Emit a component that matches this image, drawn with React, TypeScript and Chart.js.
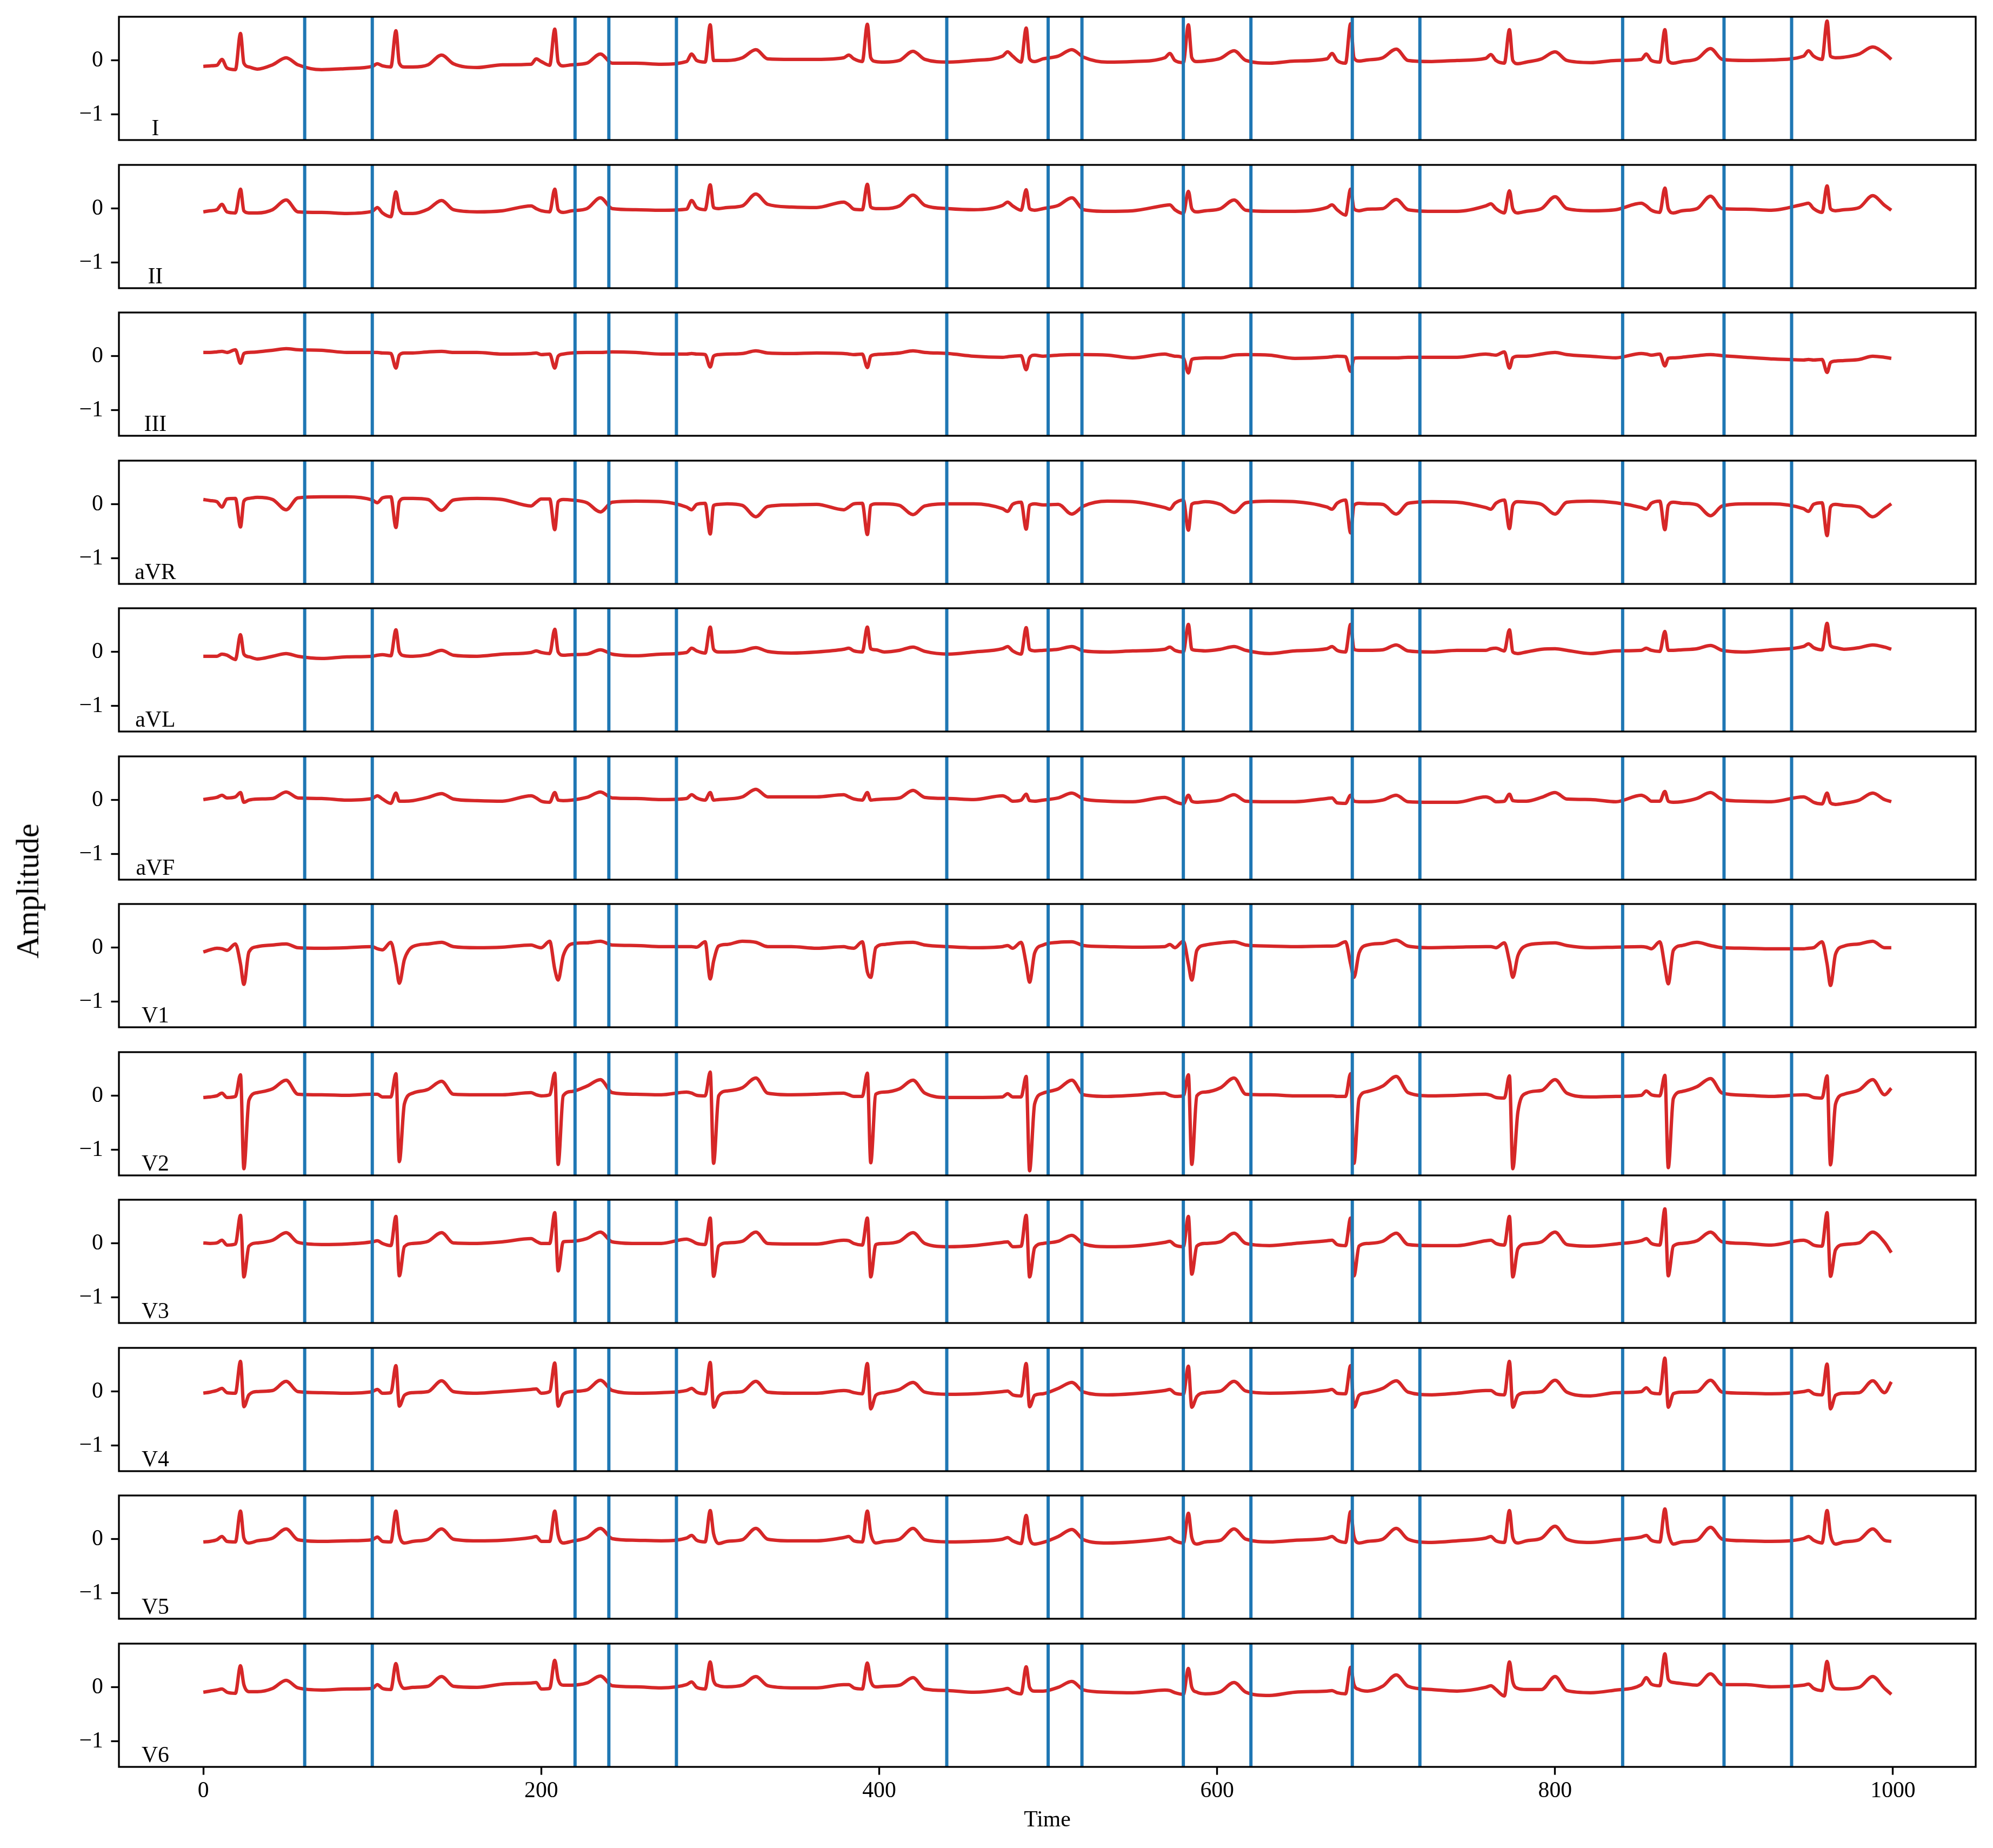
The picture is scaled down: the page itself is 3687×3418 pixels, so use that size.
import { useEffect, useRef } from 'react';
import { Chart, registerables } from 'chart.js';

Chart.register(...registerables);

// ---------- data ----------
const time = [
  0, 4,
  8, 11, 14, 19, 22, 24, 27, 32, 41, 49, 56, 70, 85,
  100, 103, 106, 111, 114, 116, 119, 124, 133, 141, 148, 162, 177,
  194, 197, 200, 205, 208, 210, 213, 218, 227, 235, 242, 256, 271,
  286, 289, 292, 297, 300, 302, 305, 310, 319, 327, 334, 348, 363,
  379, 382, 385, 390, 393, 395, 398, 403, 412, 420, 427, 441, 456,
  473, 476, 479, 484, 487, 489, 492, 497, 506, 514, 521, 535, 550,
  569, 572, 575, 580, 583, 585, 588, 593, 602, 610, 617, 631, 646,
  665, 668, 671, 676, 679, 681, 684, 689, 698, 706, 713, 727, 742,
  759, 762, 765, 770, 773, 775, 778, 783, 792, 800, 807, 821, 836,
  851, 854, 857, 862, 865, 867, 870, 875, 884, 892, 899, 913, 928,
  947, 950, 953, 958, 961, 963, 966, 971, 980, 988, 995, 999,
];

const leadI = [
  -0.11, -0.10,
  -0.09, 0.02, -0.14, -0.17, 0.50, -0.05, -0.12, -0.16, -0.08, 0.05, -0.08, -0.17, -0.15,
  -0.11, -0.06, -0.10, -0.12, 0.55, -0.05, -0.12, -0.12, -0.08, 0.10, -0.06, -0.13, -0.08,
  -0.07, 0.03, -0.02, -0.09, 0.58, -0.03, -0.10, -0.08, -0.05, 0.12, -0.05, -0.05, -0.07,
  -0.02, 0.12, 0.00, -0.03, 0.66, 0.00, 0.00, 0.00, 0.05, 0.20, 0.03, 0.02, 0.02,
  0.05, 0.10, 0.03, -0.02, 0.67, 0.05, -0.02, -0.03, 0.00, 0.17, 0.02, -0.03, 0.00,
  0.08, 0.16, 0.08, -0.03, 0.60, 0.03, -0.02, 0.03, 0.08, 0.20, 0.06, -0.03, -0.02,
  0.05, 0.13, 0.00, -0.04, 0.66, 0.05, -0.02, -0.01, 0.04, 0.18, 0.00, -0.05, -0.01,
  0.03, 0.13, 0.00, -0.05, 0.68, 0.05, -0.01, 0.01, 0.05, 0.21, 0.00, -0.02, 0.00,
  0.04, 0.11, 0.00, -0.05, 0.57, 0.00, -0.06, -0.03, 0.03, 0.16, 0.00, -0.04, 0.00,
  0.02, 0.12, 0.00, -0.03, 0.57, 0.00, -0.05, -0.02, 0.03, 0.22, 0.02, 0.00, 0.01,
  0.08, 0.18, 0.08, 0.02, 0.73, 0.08, 0.05, 0.06, 0.12, 0.25, 0.13, 0.02,
];

const leadII = [
  -0.06, -0.04,
  -0.02, 0.08, -0.06, -0.08, 0.36, -0.04, -0.08, -0.08, -0.02, 0.16, -0.06, -0.07, -0.09,
  -0.05, 0.02, -0.08, -0.15, 0.31, 0.00, -0.09, -0.09, -0.01, 0.15, -0.02, -0.06, -0.04,
  0.05, 0.00, -0.04, -0.06, 0.36, -0.02, -0.07, -0.04, 0.00, 0.20, 0.00, -0.02, -0.03,
  -0.01, 0.15, 0.02, -0.02, 0.44, 0.02, 0.00, 0.02, 0.05, 0.27, 0.08, 0.03, 0.02,
  0.12, 0.07, -0.01, -0.02, 0.45, 0.03, 0.00, 0.00, 0.05, 0.25, 0.06, 0.00, -0.02,
  0.06, 0.12, 0.05, -0.03, 0.35, 0.00, -0.03, 0.00, 0.06, 0.20, -0.02, -0.05, -0.04,
  0.06, 0.07, -0.02, -0.09, 0.32, 0.00, -0.06, -0.04, 0.00, 0.16, -0.03, -0.05, -0.05,
  0.02, 0.07, -0.02, -0.12, 0.36, 0.00, -0.04, -0.01, 0.00, 0.17, -0.02, -0.05, -0.05,
  0.05, 0.09, 0.00, -0.08, 0.33, 0.00, -0.08, -0.05, 0.00, 0.22, 0.00, -0.04, -0.02,
  0.10, 0.05, -0.03, -0.07, 0.38, 0.00, -0.08, -0.04, 0.00, 0.23, 0.00, -0.01, -0.03,
  0.08, 0.10, 0.00, -0.07, 0.42, 0.00, -0.04, -0.02, 0.02, 0.24, 0.06, -0.03,
];

const leadIII = [
  0.07, 0.07,
  0.08, 0.09, 0.07, 0.12, -0.13, 0.05, 0.07, 0.08, 0.11, 0.14, 0.12, 0.11, 0.07,
  0.07, 0.07, 0.06, 0.05, -0.22, 0.02, 0.06, 0.06, 0.08, 0.09, 0.07, 0.07, 0.04,
  0.05, 0.06, 0.03, 0.04, -0.22, 0.00, 0.04, 0.06, 0.07, 0.07, 0.08, 0.07, 0.04,
  0.04, 0.05, 0.04, 0.03, -0.20, 0.00, 0.03, 0.04, 0.05, 0.10, 0.06, 0.05, 0.06,
  0.05, 0.04, 0.03, 0.04, -0.21, 0.00, 0.03, 0.04, 0.06, 0.10, 0.07, 0.05, 0.00,
  -0.02, -0.01, 0.00, 0.01, -0.25, -0.03, 0.02, 0.00, 0.02, 0.03, 0.03, 0.02, -0.03,
  0.04, 0.02, 0.00, -0.03, -0.31, -0.06, -0.04, -0.03, -0.03, 0.02, 0.03, 0.02, -0.04,
  -0.02, -0.01, 0.00, -0.01, -0.28, -0.04, -0.03, -0.03, -0.03, -0.03, -0.02, -0.02, -0.02,
  0.04, 0.03, 0.02, 0.08, -0.22, -0.03, 0.00, 0.00, 0.04, 0.07, 0.03, 0.00, -0.03,
  0.05, 0.04, 0.02, 0.04, -0.18, -0.04, -0.03, -0.02, 0.01, 0.03, 0.01, -0.02, -0.05,
  -0.07, -0.06, -0.07, -0.06, -0.30, -0.12, -0.09, -0.08, -0.06, 0.00, -0.02, -0.04,
];

const leadAVR = [
  0.09, 0.07,
  0.05, -0.05, 0.10, 0.11, -0.42, 0.06, 0.11, 0.13, 0.09, -0.10, 0.12, 0.14, 0.14,
  0.08, 0.03, 0.12, 0.14, -0.43, 0.05, 0.11, 0.11, 0.09, -0.11, 0.08, 0.11, 0.09,
  -0.03, 0.04, 0.10, 0.10, -0.47, 0.05, 0.09, 0.08, 0.03, -0.14, 0.04, 0.06, 0.05,
  -0.05, -0.10, 0.00, 0.02, -0.55, -0.02, 0.00, 0.01, -0.02, -0.23, -0.04, -0.01, 0.00,
  -0.10, -0.05, 0.01, 0.02, -0.56, -0.02, 0.01, 0.01, -0.02, -0.19, -0.03, 0.01, 0.01,
  -0.08, -0.13, 0.00, 0.04, -0.46, -0.02, 0.01, -0.01, 0.00, -0.18, -0.03, 0.06, 0.05,
  -0.06, -0.09, 0.02, 0.08, -0.48, 0.00, 0.03, 0.05, 0.00, -0.15, 0.03, 0.06, 0.05,
  -0.05, -0.09, 0.02, 0.08, -0.53, -0.02, 0.02, 0.01, 0.00, -0.18, 0.02, 0.05, 0.04,
  -0.06, -0.09, 0.02, 0.08, -0.45, -0.02, 0.05, 0.04, 0.00, -0.18, 0.04, 0.06, 0.03,
  -0.06, -0.09, 0.02, 0.06, -0.47, -0.02, 0.04, 0.02, -0.01, -0.21, -0.03, 0.01, 0.01,
  -0.08, -0.13, 0.00, 0.03, -0.58, -0.05, 0.00, -0.02, -0.05, -0.23, -0.08, 0.01,
];

const leadAVL = [
  -0.08, -0.08,
  -0.08, -0.04, -0.06, -0.14, 0.32, -0.04, -0.09, -0.13, -0.08, -0.03, -0.08, -0.12, -0.09,
  -0.08, -0.06, -0.05, -0.07, 0.41, 0.00, -0.07, -0.08, -0.05, 0.03, -0.06, -0.08, -0.04,
  -0.01, 0.02, -0.01, -0.03, 0.42, 0.00, -0.06, -0.05, -0.04, 0.04, -0.04, -0.07, -0.04,
  -0.01, 0.07, 0.02, -0.02, 0.46, 0.05, 0.00, 0.00, 0.02, 0.08, 0.01, -0.02, 0.00,
  0.05, 0.07, 0.02, 0.00, 0.46, 0.06, 0.04, 0.00, 0.03, 0.09, 0.01, -0.04, 0.00,
  0.06, 0.10, 0.02, -0.04, 0.45, 0.05, 0.02, 0.03, 0.05, 0.10, 0.02, 0.00, 0.02,
  0.05, 0.09, 0.03, 0.00, 0.51, 0.05, 0.03, 0.02, 0.05, 0.10, 0.03, -0.03, 0.02,
  0.06, 0.10, 0.03, 0.00, 0.51, 0.05, 0.03, 0.03, 0.04, 0.13, 0.02, 0.00, 0.03,
  0.03, 0.06, 0.07, 0.02, 0.41, 0.00, -0.03, 0.00, 0.05, 0.06, 0.03, -0.03, 0.02,
  0.03, 0.07, 0.03, 0.01, 0.38, 0.03, 0.03, 0.04, 0.06, 0.12, 0.03, 0.00, 0.04,
  0.10, 0.15, 0.08, 0.04, 0.53, 0.12, 0.08, 0.05, 0.08, 0.13, 0.09, 0.05,
];

const leadAVF = [
  0.01, 0.03,
  0.05, 0.09, 0.04, 0.06, 0.14, -0.04, 0.00, 0.02, 0.03, 0.15, 0.04, 0.03, 0.00,
  0.03, 0.08, 0.02, -0.06, 0.13, -0.02, -0.02, -0.01, 0.05, 0.12, 0.02, -0.01, -0.02,
  0.08, 0.04, -0.02, -0.04, 0.14, 0.00, -0.01, 0.00, 0.05, 0.15, 0.04, 0.03, 0.01,
  0.03, 0.10, 0.04, 0.00, 0.14, 0.00, 0.01, 0.02, 0.06, 0.20, 0.06, 0.06, 0.06,
  0.10, 0.06, 0.02, 0.00, 0.14, 0.00, 0.01, 0.02, 0.04, 0.18, 0.05, 0.03, 0.01,
  0.08, 0.04, -0.02, 0.00, 0.11, -0.01, -0.02, 0.00, 0.04, 0.13, 0.02, -0.02, -0.03,
  0.05, 0.02, -0.03, -0.07, 0.09, -0.02, -0.04, -0.03, 0.00, 0.10, -0.02, -0.03, -0.03,
  0.03, 0.04, -0.05, -0.06, 0.09, -0.02, -0.03, -0.03, 0.00, 0.09, -0.03, -0.04, -0.04,
  0.06, 0.03, -0.03, -0.02, 0.11, -0.01, -0.02, -0.02, 0.05, 0.14, 0.02, 0.01, -0.03,
  0.09, 0.05, -0.02, -0.02, 0.16, -0.02, -0.04, -0.03, 0.03, 0.14, 0.01, -0.02, -0.03,
  0.06, 0.02, -0.04, -0.07, 0.13, -0.05, -0.08, -0.06, 0.00, 0.13, 0.01, -0.03,
];

const leadV1 = [
  -0.08, -0.04,
  -0.01, -0.02, -0.05, 0.07, -0.30, -0.68, -0.08, 0.02, 0.05, 0.07, 0.00, -0.01, 0.00,
  0.02, -0.02, -0.04, 0.10, -0.30, -0.66, -0.22, 0.02, 0.07, 0.10, 0.02, 0.00, 0.01,
  0.05, 0.02, 0.00, 0.12, -0.40, -0.60, -0.15, 0.07, 0.09, 0.12, 0.05, 0.04, 0.02,
  0.02, 0.02, 0.01, 0.11, -0.58, -0.25, 0.03, 0.06, 0.12, 0.10, 0.02, 0.02, -0.01,
  0.02, 0.00, -0.01, 0.11, -0.45, -0.55, 0.00, 0.06, 0.09, 0.10, 0.05, 0.02, 0.00,
  0.02, 0.04, -0.01, 0.10, -0.30, -0.64, -0.10, 0.05, 0.10, 0.11, 0.04, 0.02, 0.01,
  0.02, 0.06, 0.00, 0.12, -0.30, -0.60, -0.05, 0.05, 0.09, 0.11, 0.05, 0.03, 0.02,
  0.03, 0.03, 0.04, 0.11, -0.30, -0.55, -0.10, 0.05, 0.08, 0.14, 0.03, 0.00, 0.01,
  0.02, 0.02, 0.00, 0.09, -0.25, -0.55, -0.15, 0.04, 0.08, 0.09, 0.04, 0.00, 0.01,
  0.02, 0.01, -0.02, 0.11, -0.35, -0.67, -0.05, 0.04, 0.10, 0.04, 0.00, -0.01, -0.02,
  -0.02, -0.01, 0.00, 0.11, -0.30, -0.70, -0.12, 0.03, 0.07, 0.12, 0.00, 0.00,
];

const leadV2 = [
  -0.03, -0.02,
  0.00, 0.05, -0.03, -0.01, 0.39, -1.35, -0.08, 0.06, 0.13, 0.29, 0.03, 0.02, 0.01,
  0.03, 0.03, -0.02, -0.02, 0.41, -1.22, -0.15, 0.05, 0.12, 0.27, 0.03, 0.02, 0.02,
  0.06, 0.02, 0.00, 0.02, 0.42, -1.27, 0.00, 0.08, 0.18, 0.30, 0.06, 0.03, 0.02,
  0.07, 0.05, 0.01, 0.00, 0.44, -1.25, 0.00, 0.09, 0.15, 0.33, 0.05, 0.02, 0.03,
  0.05, 0.02, -0.01, -0.01, 0.42, -1.24, 0.03, 0.07, 0.13, 0.29, 0.05, -0.03, -0.03,
  -0.02, 0.04, -0.02, -0.02, 0.36, -1.39, -0.15, 0.05, 0.13, 0.29, 0.02, -0.01, 0.01,
  0.05, 0.01, -0.01, 0.00, 0.39, -1.27, 0.00, 0.07, 0.15, 0.33, 0.03, 0.02, 0.00,
  0.00, 0.00, -0.01, -0.01, 0.41, -1.25, -0.05, 0.08, 0.18, 0.36, 0.06, 0.00, 0.01,
  0.03, 0.01, -0.03, -0.04, 0.37, -1.35, -0.30, 0.05, 0.10, 0.30, 0.05, -0.02, -0.01,
  0.01, 0.09, 0.02, 0.00, 0.38, -1.33, -0.05, 0.08, 0.17, 0.32, 0.05, 0.01, -0.01,
  0.02, 0.01, -0.03, -0.04, 0.37, -1.28, -0.15, 0.03, 0.11, 0.30, 0.02, 0.14,
];

const leadV3 = [
  0.01, 0.00,
  0.01, 0.06, -0.03, -0.01, 0.52, -0.62, -0.05, 0.01, 0.06, 0.20, 0.02, -0.02, -0.01,
  0.03, 0.05, 0.00, -0.04, 0.50, -0.60, -0.06, 0.00, 0.04, 0.20, 0.01, 0.00, 0.03,
  0.09, 0.04, 0.00, 0.00, 0.57, -0.51, 0.03, 0.04, 0.09, 0.21, 0.03, 0.00, 0.00,
  0.08, 0.05, 0.00, -0.02, 0.47, -0.61, -0.05, 0.01, 0.04, 0.21, 0.00, -0.01, -0.01,
  0.06, 0.05, 0.00, -0.03, 0.47, -0.62, -0.02, 0.00, 0.04, 0.20, 0.00, -0.06, -0.04,
  0.02, 0.03, -0.06, -0.05, 0.52, -0.62, -0.08, 0.00, 0.04, 0.15, -0.01, -0.06, -0.05,
  0.02, 0.04, -0.03, -0.06, 0.50, -0.57, -0.05, 0.00, 0.03, 0.19, 0.00, -0.04, 0.00,
  0.05, 0.06, -0.02, -0.04, 0.47, -0.60, -0.05, 0.00, 0.04, 0.19, -0.02, -0.04, -0.04,
  0.05, 0.06, 0.00, -0.03, 0.50, -0.62, -0.10, -0.01, 0.03, 0.21, -0.02, -0.05, -0.01,
  0.05, 0.09, 0.00, -0.03, 0.64, -0.60, -0.05, 0.00, 0.05, 0.21, 0.03, 0.00, -0.03,
  0.06, 0.03, -0.03, -0.05, 0.57, -0.61, -0.12, -0.02, 0.01, 0.21, 0.02, -0.17,
];

const leadV4 = [
  -0.03, -0.01,
  0.02, 0.06, -0.02, -0.03, 0.56, -0.28, -0.06, 0.00, 0.02, 0.19, 0.00, -0.02, -0.03,
  0.00, 0.04, -0.03, -0.02, 0.48, -0.27, -0.07, -0.02, 0.00, 0.20, 0.00, -0.03, 0.00,
  0.04, 0.05, -0.03, 0.00, 0.53, -0.27, -0.05, 0.00, 0.03, 0.21, 0.02, -0.03, -0.02,
  0.02, 0.06, -0.01, -0.04, 0.54, -0.29, -0.09, -0.02, 0.00, 0.19, -0.01, -0.03, -0.03,
  0.02, 0.01, -0.02, -0.04, 0.52, -0.32, -0.07, -0.02, 0.04, 0.17, -0.01, -0.05, -0.04,
  0.00, 0.01, -0.06, -0.08, 0.52, -0.28, -0.07, -0.04, 0.06, 0.17, -0.01, -0.06, -0.04,
  0.02, 0.04, -0.03, -0.05, 0.47, -0.29, -0.09, -0.02, 0.01, 0.19, 0.01, -0.03, -0.02,
  0.02, 0.04, -0.03, -0.04, 0.48, -0.29, -0.07, -0.02, 0.06, 0.20, -0.01, -0.06, -0.03,
  0.02, 0.02, -0.04, -0.06, 0.56, -0.29, -0.07, -0.02, 0.00, 0.21, -0.01, -0.08, -0.02,
  0.00, 0.07, -0.02, -0.04, 0.62, -0.29, -0.04, -0.01, 0.00, 0.21, -0.01, -0.03, -0.04,
  0.00, 0.02, -0.04, -0.06, 0.51, -0.32, -0.07, -0.03, -0.02, 0.20, -0.02, 0.18,
];

const leadV5 = [
  -0.05, -0.04,
  -0.01, 0.05, -0.04, -0.05, 0.52, 0.02, -0.07, -0.03, 0.02, 0.19, -0.01, -0.04, -0.03,
  -0.01, 0.04, -0.04, -0.05, 0.52, 0.08, -0.07, -0.04, 0.00, 0.19, 0.00, -0.03, -0.02,
  0.03, 0.05, -0.04, -0.04, 0.52, 0.08, -0.07, -0.04, 0.03, 0.20, 0.01, -0.02, -0.03,
  0.02, 0.07, -0.02, -0.05, 0.53, 0.10, -0.08, -0.04, -0.01, 0.20, 0.00, -0.03, -0.03,
  0.03, 0.05, -0.03, -0.05, 0.52, 0.10, -0.07, -0.04, 0.00, 0.20, -0.01, -0.05, -0.04,
  0.00, 0.03, -0.03, -0.08, 0.44, 0.02, -0.09, -0.06, 0.05, 0.18, -0.01, -0.07, -0.05,
  0.01, 0.03, -0.03, -0.07, 0.48, 0.03, -0.09, -0.05, -0.02, 0.19, 0.00, -0.05, -0.02,
  0.02, 0.05, -0.02, -0.06, 0.51, 0.05, -0.07, -0.04, 0.00, 0.20, 0.00, -0.06, -0.03,
  0.02, 0.05, -0.03, -0.06, 0.53, 0.03, -0.07, -0.03, 0.02, 0.24, 0.00, -0.06, -0.01,
  0.04, 0.07, -0.02, -0.05, 0.56, 0.12, -0.09, -0.05, -0.02, 0.22, 0.00, -0.03, -0.04,
  0.01, 0.05, -0.02, -0.07, 0.53, 0.08, -0.09, -0.05, -0.01, 0.19, -0.02, -0.04,
];

const leadV6 = [
  -0.09, -0.07,
  -0.05, -0.03, -0.09, -0.11, 0.40, 0.05, -0.08, -0.08, -0.02, 0.13, -0.01, -0.05, -0.03,
  -0.02, 0.05, -0.02, -0.04, 0.44, 0.12, -0.02, 0.00, 0.02, 0.20, 0.02, 0.00, 0.06,
  0.08, 0.09, -0.03, -0.02, 0.50, 0.15, 0.04, 0.04, 0.08, 0.21, 0.03, 0.01, -0.01,
  0.05, 0.10, 0.00, -0.03, 0.47, 0.12, 0.03, 0.01, 0.04, 0.20, 0.03, -0.01, -0.01,
  0.05, 0.05, -0.01, -0.03, 0.45, 0.12, 0.01, 0.02, 0.04, 0.18, -0.03, -0.06, -0.09,
  -0.04, -0.02, -0.08, -0.12, 0.38, 0.00, -0.07, -0.07, 0.00, 0.11, -0.05, -0.09, -0.10,
  -0.05, -0.06, -0.10, -0.13, 0.35, 0.00, -0.09, -0.12, -0.08, 0.09, -0.09, -0.15, -0.09,
  -0.07, -0.06, -0.10, -0.12, 0.37, 0.05, -0.04, -0.07, 0.02, 0.23, 0.02, -0.04, -0.07,
  0.00, 0.03, -0.04, -0.16, 0.47, 0.10, -0.02, -0.04, -0.04, 0.20, -0.06, -0.10, -0.05,
  0.05, 0.18, 0.06, 0.03, 0.62, 0.15, 0.09, 0.07, 0.04, 0.25, 0.05, 0.05, 0.01,
  0.04, 0.06, -0.02, -0.06, 0.48, 0.12, -0.02, -0.03, 0.00, 0.20, -0.02, -0.13,
];

const leadNames = ['I', 'II', 'III', 'aVR', 'aVL', 'aVF', 'V1', 'V2', 'V3', 'V4', 'V5', 'V6'];
const leadValues = [leadI, leadII, leadIII, leadAVR, leadAVL, leadAVF, leadV1, leadV2, leadV3, leadV4, leadV5, leadV6];
const markers = [60, 100, 220, 240, 280, 440, 500, 520, 580, 620, 680, 720, 840, 900, 940];
const xTicks = [0, 200, 400, 600, 800, 1000];
const yTicks = [-1, 0];

// ---------- layout / style ----------
const FIG_W = 3687;
const FIG_H = 3418;
const AX_LEFT = 220;
const AX_RIGHT = 3655;
const AX_TOP0 = 31;
const PITCH = 273.5;
const AX_H = 228;
const PAD = 12;
const X_MIN = -49.95;
const X_MAX = 1048.95;
const Y_MIN = -1.475;
const Y_MAX = 0.81;
const LABEL_X = -28.4;
const FONT = '"Liberation Serif", "Times New Roman", serif';
const TICK_FONT = 41.7;
const TICK_LEN = 14.6;
const SPINE_W = 3.33;
const RED_W = 6.25;
const BLUE_W = 6;
const RED = '#d62728';
const BLUE = '#1f77b4';

function Panel({ index }: { index: number }) {
  const ref = useRef<HTMLCanvasElement | null>(null);
  const isLast = index === leadNames.length - 1;
  const top = Math.round(AX_TOP0 + PITCH * index) - PAD;
  const height = isLast ? FIG_H - top : AX_H + 2 * PAD;

  useEffect(() => {
    if (!ref.current) return;
    const values = leadValues[index];
    const name = leadNames[index];
    const markerData: { x: number; y: number | null }[] = [];
    markers.forEach((m) => {
      markerData.push({ x: m, y: Y_MIN });
      markerData.push({ x: m, y: Y_MAX });
      markerData.push({ x: m, y: null });
    });

    const framePlugin = {
      id: 'frame' + index,
      afterDraw(chart: any) {
        const { ctx, chartArea } = chart;
        const { left, top: t, right, bottom } = chartArea;
        ctx.save();
        ctx.fillStyle = '#000';
        ctx.font = `${TICK_FONT}px ${FONT}`;
        ctx.textAlign = 'center';
        ctx.textBaseline = 'alphabetic';
        ctx.fillText(name, chart.scales.x.getPixelForValue(LABEL_X), bottom - 9);
        ctx.strokeStyle = '#000';
        ctx.lineWidth = SPINE_W;
        ctx.strokeRect(left, t, right - left, bottom - t);
        ctx.restore();
      },
    };

    const gridOpts = {
      display: true,
      drawOnChartArea: false,
      drawTicks: true,
      tickLength: TICK_LEN,
      tickWidth: SPINE_W,
      tickColor: '#000',
    };

    const chart = new Chart(ref.current, {
      type: 'line',
      data: {
        datasets: [
          {
            data: markerData as any,
            borderColor: BLUE,
            borderWidth: BLUE_W,
            pointRadius: 0,
            spanGaps: false,
            order: 0,
          },
          {
            data: time.map((t, k) => ({ x: t, y: values[k] })) as any,
            borderColor: RED,
            borderWidth: RED_W,
            borderJoinStyle: 'round',
            cubicInterpolationMode: 'monotone',
            pointRadius: 0,
            order: 1,
          },
        ],
      },
      options: {
        responsive: false,
        animation: false,
        devicePixelRatio: 1,
        events: [],
        layout: {
          padding: { left: 0, right: FIG_W - AX_RIGHT, top: PAD, bottom: isLast ? 0 : PAD },
        },
        plugins: {
          legend: { display: false },
          tooltip: { enabled: false },
        },
        scales: {
          x: {
            type: 'linear',
            min: X_MIN,
            max: X_MAX,
            display: isLast,
            afterBuildTicks: (s: any) => {
              s.ticks = xTicks.map((v) => ({ value: v }));
            },
            afterFit: (s: any) => {
              if (isLast) s.height = FIG_H - (top + PAD + AX_H);
              s.paddingLeft = 0;
              s.paddingRight = 0;
            },
            grid: gridOpts,
            border: { display: false },
            ticks: {
              font: { family: FONT, size: TICK_FONT },
              color: '#000',
              padding: 5,
              maxRotation: 0,
              minRotation: 0,
              autoSkip: false,
              callback: (v: any) => String(v),
            },
            title: {
              display: true,
              text: 'Time',
              font: { family: FONT, size: TICK_FONT },
              color: '#000',
              padding: { top: 0, bottom: 26 },
            },
          },
          y: {
            type: 'linear',
            min: Y_MIN,
            max: Y_MAX,
            afterBuildTicks: (s: any) => {
              s.ticks = yTicks.map((v) => ({ value: v }));
            },
            afterFit: (s: any) => {
              s.width = AX_LEFT;
              s.paddingTop = 0;
              s.paddingBottom = 0;
            },
            grid: gridOpts,
            border: { display: false },
            ticks: {
              font: { family: FONT, size: TICK_FONT },
              color: '#000',
              padding: TICK_LEN,
              callback: (v: any) => (Number(v) < 0 ? '\u2212' + Math.abs(Number(v)) : String(v)),
            },
          },
        },
      } as any,
      plugins: [framePlugin],
    });
    return () => chart.destroy();
  }, [index]);

  return (
    <canvas
      ref={ref}
      width={FIG_W}
      height={height}
      style={{ position: 'absolute', left: 0, top, width: FIG_W, height, display: 'block' }}
    />
  );
}

export default function App() {
  return (
    <div
      style={{
        position: 'absolute',
        left: 0,
        top: 0,
        width: FIG_W,
        height: FIG_H,
        background: '#fff',
        overflow: 'hidden',
      }}
    >
      {leadNames.map((_, i) => (
        <Panel key={i} index={i} />
      ))}
      <div
        style={{
          position: 'absolute',
          left: 52,
          top: 1648,
          transform: 'translate(-50%, -50%) rotate(-90deg)',
          fontFamily: FONT,
          fontSize: 58.3,
          lineHeight: 1,
          whiteSpace: 'nowrap',
          color: '#000',
        }}
      >
        Amplitude
      </div>
    </div>
  );
}
